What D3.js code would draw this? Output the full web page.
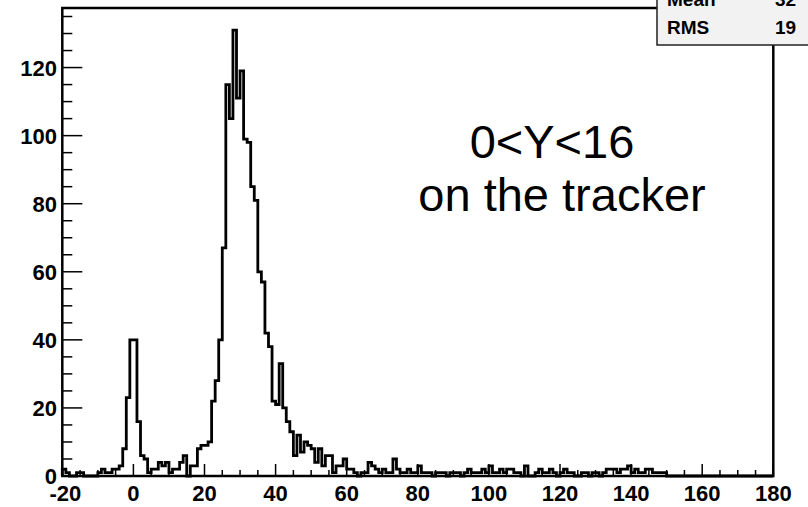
<!DOCTYPE html>
<html lang="en">
<head>
<meta charset="UTF-8">
<title>0&lt;Y&lt;16 on the tracker</title>
<script src="https://d3js.org/d3.v7.min.js"></script>
<style>
    body { margin: 0; background: #fff; }
    svg { display: block; }
    .lbl { font-family: "Liberation Sans", Arial, sans-serif; font-weight: bold; font-size: 22px; fill: #000; }
    .note { font-family: "Liberation Sans", Arial, sans-serif; font-size: 47px; fill: #000; }
    .stat { font-family: "Liberation Sans", Arial, sans-serif; font-weight: bold; font-size: 19px; fill: #000; }
</style>
</head>
<body>
<svg id="chart" width="808" height="507"></svg>
<script>
// histogram: 200 bins of width 1 from -20 to 180, counts by bin
const xRange = [-20, 180];
const binWidth = 1;
const counts = [
    2, 1, 0, 0, 1, 1, 0, 0, 0, 0,          // -20 .. -11
    1, 2, 1, 1, 2, 2, 3, 8, 23, 40,        // -10 .. -1
    40, 16, 6, 5, 1, 2, 2, 4, 3, 4,        // 0 .. 9
    1, 2, 2, 4, 6, 0, 3, 3, 8, 9,          // 10 .. 19
    9, 10, 22, 28, 40, 67, 115, 105, 131, 111,
    119, 99, 98, 85, 81, 60, 57, 42, 38, 22,
    21, 33, 20, 16, 13, 6, 12, 7, 10, 9,
    8, 4, 8, 3, 6, 6, 1, 3, 3, 5,
    2, 2, 1, 0, 1, 1, 4, 3, 2, 1,
    2, 1, 1, 5, 2, 1, 1, 2, 1, 1,
    3, 1, 1, 1, 0, 1, 1, 1, 0, 1,
    1, 1, 0, 1, 2, 1, 1, 1, 2, 1,
    3, 1, 1, 2, 1, 2, 2, 1, 1, 0,
    3, 0, 0, 1, 2, 1, 1, 2, 1, 0,
    1, 2, 1, 1, 0, 0, 1, 1, 0, 1,
    1, 0, 1, 2, 2, 2, 1, 2, 2, 3,
    1, 2, 1, 1, 2, 2, 1, 1, 1, 1,
    0, 0, 0, 0, 0, 0, 0, 0, 0, 0,
    0, 0, 0, 0, 0, 0, 0, 0, 0, 0,
    0, 0, 0, 0, 0, 0, 0, 0, 0, 0
];
const xTicks = [-20, 0, 20, 40, 60, 80, 100, 120, 140, 160, 180];
const yTicks = [0, 20, 40, 60, 80, 100, 120];
const yMax = 137.5;
const noteLines = ["0<Y<16", "on the tracker"];
const statNames = ["Mean", "RMS"];
const statValues = ["32", "19"];

const svg = d3.select("#chart");
const frame = { left: 62.3, right: 773.3, top: 8, bottom: 476 };

const x = d3.scaleLinear().domain(xRange).range([frame.left, frame.right]);
const y = d3.scaleLinear().domain([0, yMax]).range([frame.bottom, frame.top]);

svg.append("rect").attr("width", 808).attr("height", 507).attr("fill", "#fff");

// ticks (inside the frame, like ROOT)
const g = svg.append("g").attr("stroke", "#000").attr("stroke-width", 1.5);
d3.range(0, 136, 5).forEach(v => {
    const len = v % 20 === 0 ? 20 : 10;
    g.append("line").attr("x1", frame.left).attr("x2", frame.left + len)
        .attr("y1", y(v)).attr("y2", y(v));
});
d3.range(-20, 181, 5).forEach(v => {
    const len = v % 20 === 0 ? 12 : 6;
    g.append("line").attr("x1", x(v)).attr("x2", x(v))
        .attr("y1", frame.bottom).attr("y2", frame.bottom - len);
});

// histogram outline
const pts = [[x(xRange[0]), y(0)]];
counts.forEach((c, i) => {
    const lo = xRange[0] + i * binWidth;
    pts.push([x(lo), y(c)], [x(lo + binWidth), y(c)]);
});
pts.push([x(xRange[1]), y(0)]);
svg.append("path")
    .attr("d", d3.line()(pts))
    .attr("fill", "none")
    .attr("stroke", "#000")
    .attr("stroke-width", 2.8)
    .attr("stroke-linejoin", "miter");

// frame
svg.append("rect")
    .attr("x", frame.left).attr("y", frame.top)
    .attr("width", frame.right - frame.left).attr("height", frame.bottom - frame.top)
    .attr("fill", "none").attr("stroke", "#000").attr("stroke-width", 2.5);

// tick labels
svg.selectAll("text.ylab").data(yTicks).enter().append("text")
    .attr("class", "lbl ylab")
    .attr("x", 57).attr("y", d => y(d) + 8)
    .attr("text-anchor", "end")
    .text(d => d);
svg.selectAll("text.xlab").data(xTicks).enter().append("text")
    .attr("class", "lbl xlab")
    .attr("x", d => x(d) + (d < 0 ? 3 : 0)).attr("y", 501)
    .attr("text-anchor", "middle")
    .text(d => d);

// annotation
svg.append("text").attr("class", "note").attr("x", 552).attr("y", 158)
    .attr("text-anchor", "middle").text(noteLines[0]);
svg.append("text").attr("class", "note").attr("x", 562).attr("y", 211)
    .attr("text-anchor", "middle").text(noteLines[1]);

// stats box (cut by the top right corner)
svg.append("rect")
    .attr("x", 657).attr("y", -10).attr("width", 170).attr("height", 55)
    .attr("fill", "#f2f2f2").attr("stroke", "#222").attr("stroke-width", 1.5);
statNames.forEach((s, i) => {
    svg.append("text").attr("class", "stat").attr("x", 667).attr("y", 6 + i * 28).text(s);
    svg.append("text").attr("class", "stat").attr("x", 775).attr("y", 6 + i * 28).text(statValues[i]);
});
</script>
</body>
</html>
